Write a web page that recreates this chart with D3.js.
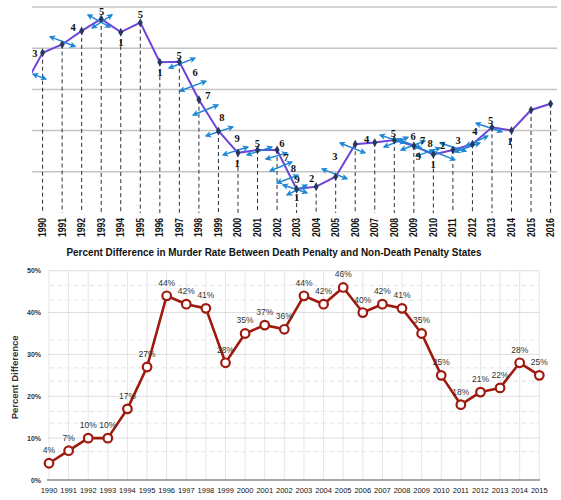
<!DOCTYPE html>
<html lang="en">
<head>
<meta charset="utf-8" />
<title>Wave count and murder rate difference</title>
<script src="https://d3js.org/d3.v7.min.js"></script>
<style>
  html, body { margin: 0; padding: 0; background: #fff; overflow: hidden; }
  svg { display: block; font-family: "Liberation Sans", Arial, sans-serif; }
</style>
</head>
<body>
<script>
// ---- top chart data (wave count, arbitrary units) ----
const waveYears  = d3.range(1989, 2017);
const waveValues = [3.03, 3.89, 4.09, 4.42, 4.71, 4.39, 4.62, 3.66, 3.67, 2.75, 1.99,
                    1.46, 1.53, 1.53, 0.58, 0.64, 0.88, 1.67, 1.71, 1.77, 1.63,
                    1.42, 1.53, 1.67, 2.08, 2.00, 2.50, 2.65];
// wave labels: [year, level, text]
const waveLabels = [
  [1989.6, 3.88, "3"], [1991.56, 4.51, "4"], [1993.02, 4.90, "5"], [1994.0, 4.15, "1"],
  [1995.0, 4.83, "5"], [1996.0, 3.40, "1"], [1996.99, 3.83, "5"], [1997.8, 3.41, "6"],
  [1998.46, 2.85, "7"], [1999.18, 2.32, "8"], [1999.95, 1.80, "9"], [1999.96, 1.20, "1"],
  [2000.99, 1.69, "5"], [2002.24, 1.69, "6"], [2002.46, 1.35, "7"], [2002.83, 1.08, "8"],
  [2003.03, 0.81, "9"], [2003.0, 0.38, "1"], [2003.77, 0.83, "2"], [2004.96, 1.36, "3"],
  [2006.59, 1.78, "4"], [2007.95, 1.93, "5"], [2008.97, 1.85, "6"], [2009.45, 1.77, "7"],
  [2009.83, 1.69, "8"], [2009.23, 1.37, "9"], [2009.99, 1.18, "1"], [2010.48, 1.63, "2"],
  [2011.27, 1.77, "3"], [2012.13, 1.97, "4"], [2012.93, 2.24, "5"], [2013.92, 1.73, "1"]
];
// double arrows: [year1, level1, year2, level2]
const waveArrows = [
  [1989.51, 3.37, 1990.17, 3.25], [1990.38, 4.28, 1991.66, 4.04], [1992.32, 4.81, 1993.45, 4.51],
  [1992.53, 4.49, 1993.55, 4.81], [1996.47, 3.52, 1997.80, 3.76], [1997.03, 2.96, 1998.36, 3.20],
  [1997.70, 2.38, 1998.98, 2.62], [1998.36, 1.87, 1999.74, 2.09], [1999.23, 1.41, 2000.51, 1.60],
  [2000.46, 1.41, 2001.74, 1.60], [2001.43, 1.31, 2002.51, 1.46], [2001.64, 1.02, 2002.76, 1.24],
  [2002.00, 0.73, 2003.07, 0.92], [2002.30, 0.68, 2003.53, 0.49], [2002.51, 0.44, 2003.53, 0.68],
  [2004.30, 1.07, 2005.58, 0.83], [2005.22, 1.70, 2006.50, 1.46], [2007.27, 1.89, 2008.55, 1.70],
  [2007.47, 1.60, 2008.70, 1.84], [2008.14, 1.80, 2009.37, 1.58], [2008.34, 1.53, 2009.57, 1.75],
  [2008.91, 1.63, 2010.14, 1.43], [2009.11, 1.38, 2010.34, 1.58], [2009.82, 1.53, 2011.10, 1.29],
  [2010.34, 1.70, 2011.67, 1.50], [2011.10, 1.48, 2012.38, 1.70], [2012.18, 2.18, 2013.51, 1.97],
  [2011.67, 1.63, 2012.79, 1.87]
];

// ---- bottom chart data ----
const years = d3.range(1990, 2016);
const pctDiff = [4, 7, 10, 10, 17, 27, 44, 42, 41, 28, 35, 37, 36, 44, 42, 46,
                 40, 42, 41, 35, 25, 18, 21, 22, 28, 25];
const pctTicks = [0, 10, 20, 30, 40, 50];
const ghostLines = [46.5, 43, 33.5, 26.8, 23.6, 16.4, 13.6, 6.8];

const title = "Percent Difference in Murder Rate Between Death Penalty and Non-Death Penalty States";

const W = 561, H = 500;
const svg = d3.select("body").append("svg").attr("width", W).attr("height", H);

// arrowheads
const defs = svg.append("defs");
defs.append("marker")
  .attr("id", "ah").attr("viewBox", "0 0 10 10").attr("refX", 8).attr("refY", 5)
  .attr("markerWidth", 6.5).attr("markerHeight", 6.5).attr("markerUnits", "userSpaceOnUse")
  .attr("orient", "auto-start-reverse")
  .append("path").attr("d", "M0,0L10,5L0,10L2.5,5Z").attr("fill", "#1d86d6");
defs.append("clipPath").attr("id", "topclip")
  .append("rect").attr("x", 32).attr("y", 0).attr("width", 526).attr("height", 214);

/* ================= top chart ================= */
const tx = d3.scaleLinear().domain([1990, 2016]).range([42.6, 550.6]);
const ty = d3.scaleLinear().domain([0, 5]).range([213, 7]);

const topG = svg.append("g");
topG.selectAll(".hgrid").data([1, 2, 3, 4, 5]).enter().append("line")
  .attr("x1", 32).attr("x2", 557)
  .attr("y1", d => ty(d)).attr("y2", d => ty(d))
  .attr("stroke", "#c4c4c4").attr("stroke-width", 1.5);

const pts = waveYears.map((y, i) => ({ year: y, v: waveValues[i] }));
const shown = pts.filter(d => d.year >= 1990);

topG.selectAll(".drop").data(shown).enter().append("line")
  .attr("x1", d => tx(d.year)).attr("x2", d => tx(d.year))
  .attr("y1", d => ty(d.v)).attr("y2", ty(0))
  .attr("stroke", "#2a2f3a").attr("stroke-width", 1)
  .attr("stroke-dasharray", "4,3");

topG.append("path").datum(pts)
  .attr("clip-path", "url(#topclip)")
  .attr("fill", "none").attr("stroke", "#6e44d6").attr("stroke-width", 2)
  .attr("d", d3.line().x(d => tx(d.year)).y(d => ty(d.v)));

topG.selectAll(".arr").data(waveArrows).enter().append("line")
  .attr("x1", d => tx(d[0])).attr("y1", d => ty(d[1]))
  .attr("x2", d => tx(d[2])).attr("y2", d => ty(d[3]))
  .attr("stroke", "#1d86d6").attr("stroke-width", 1.5)
  .attr("marker-start", "url(#ah)").attr("marker-end", "url(#ah)");

topG.selectAll(".pt").data(shown).enter().append("path")
  .attr("transform", d => `translate(${tx(d.year)},${ty(d.v)})`)
  .attr("d", d3.symbol(d3.symbolDiamond, 22))
  .attr("fill", "#26395a");

topG.selectAll(".wl").data(waveLabels).enter().append("text")
  .attr("x", d => tx(d[0])).attr("y", d => ty(d[1]))
  .attr("text-anchor", "middle").attr("dominant-baseline", "central")
  .attr("font-family", "'Liberation Serif', 'DejaVu Serif', serif")
  .attr("font-weight", "bold").attr("font-size", 10.5)
  .attr("fill", "#111")
  .text(d => d[2]);

topG.selectAll(".xl").data(shown).enter().append("text")
  .attr("transform", d => `translate(${tx(d.year)},237) rotate(-90)`)
  .attr("dominant-baseline", "central")
  .attr("font-weight", "bold").attr("font-size", 10)
  .attr("textLength", 19).attr("lengthAdjust", "spacingAndGlyphs")
  .attr("fill", "#111")
  .text(d => d.year);

svg.append("text")
  .attr("x", 274).attr("y", 252.5)
  .attr("text-anchor", "middle").attr("dominant-baseline", "central")
  .attr("font-family", "'Liberation Sans', Arial, sans-serif")
  .attr("font-weight", "bold").attr("font-size", 10)
  .attr("textLength", 415).attr("lengthAdjust", "spacingAndGlyphs")
  .attr("fill", "#111")
  .text(title);

/* ================= bottom chart ================= */
const bx = d3.scaleLinear().domain([1990, 2015]).range([49, 539.3]);
const by = d3.scaleLinear().domain([0, 50]).range([480, 270.7]);

const bot = svg.append("g");
bot.selectAll(".vg").data(years).enter().append("line")
  .attr("x1", d => bx(d)).attr("x2", d => bx(d))
  .attr("y1", by(50)).attr("y2", by(0))
  .attr("stroke", "#e6e6e6").attr("stroke-width", 1);

bot.selectAll(".gl").data(ghostLines).enter().append("line")
  .attr("x1", 49).attr("x2", 539)
  .attr("y1", d => by(d)).attr("y2", d => by(d))
  .attr("stroke", "#e9e9e9").attr("stroke-width", 1.2)
  .attr("stroke-dasharray", "5,3");

bot.selectAll(".hg").data(pctTicks.slice(1)).enter().append("line")
  .attr("x1", 48).attr("x2", 539.3)
  .attr("y1", d => by(d)).attr("y2", d => by(d))
  .attr("stroke", "#dedede").attr("stroke-width", 1);

bot.append("line")
  .attr("x1", 47).attr("x2", 540)
  .attr("y1", by(0)).attr("y2", by(0))
  .attr("stroke", "#a8a8a8").attr("stroke-width", 2.2);

bot.selectAll(".yl").data(pctTicks).enter().append("text")
  .attr("x", 41).attr("y", d => by(d))
  .attr("text-anchor", "end").attr("dominant-baseline", "central")
  .attr("font-weight", "bold").attr("font-size", 7)
  .attr("fill", "#333")
  .text(d => d + "%");

bot.append("text")
  .attr("transform", `translate(15,${by(25) + 2}) rotate(-90)`)
  .attr("text-anchor", "middle").attr("dominant-baseline", "central")
  .attr("font-weight", "bold").attr("font-size", 8.5)
  .attr("textLength", 84).attr("lengthAdjust", "spacingAndGlyphs")
  .attr("fill", "#333")
  .text("Percent Difference");

bot.selectAll(".bxl").data(years).enter().append("text")
  .attr("x", d => bx(d)).attr("y", 490)
  .attr("text-anchor", "middle").attr("dominant-baseline", "central")
  .attr("font-size", 7.5).attr("fill", "#111")
  .text(d => d);

const series = years.map((y, i) => ({ year: y, v: pctDiff[i] }));
bot.append("path").datum(series)
  .attr("fill", "none").attr("stroke", "#9e1a0e").attr("stroke-width", 2.6)
  .attr("stroke-linejoin", "round")
  .attr("d", d3.line().x(d => bx(d.year)).y(d => by(d.v)));

bot.selectAll(".mk").data(series).enter().append("circle")
  .attr("cx", d => bx(d.year)).attr("cy", d => by(d.v)).attr("r", 4.3)
  .attr("fill", "#fff").attr("stroke", "#9e1a0e").attr("stroke-width", 2.2);

bot.selectAll(".vl").data(series).enter().append("text")
  .attr("x", d => bx(d.year)).attr("y", d => by(d.v) - 13)
  .attr("text-anchor", "middle").attr("dominant-baseline", "central")
  .attr("font-size", 8.5).attr("fill", "#333")
  .text(d => d.v + "%");
</script>
</body>
</html>
